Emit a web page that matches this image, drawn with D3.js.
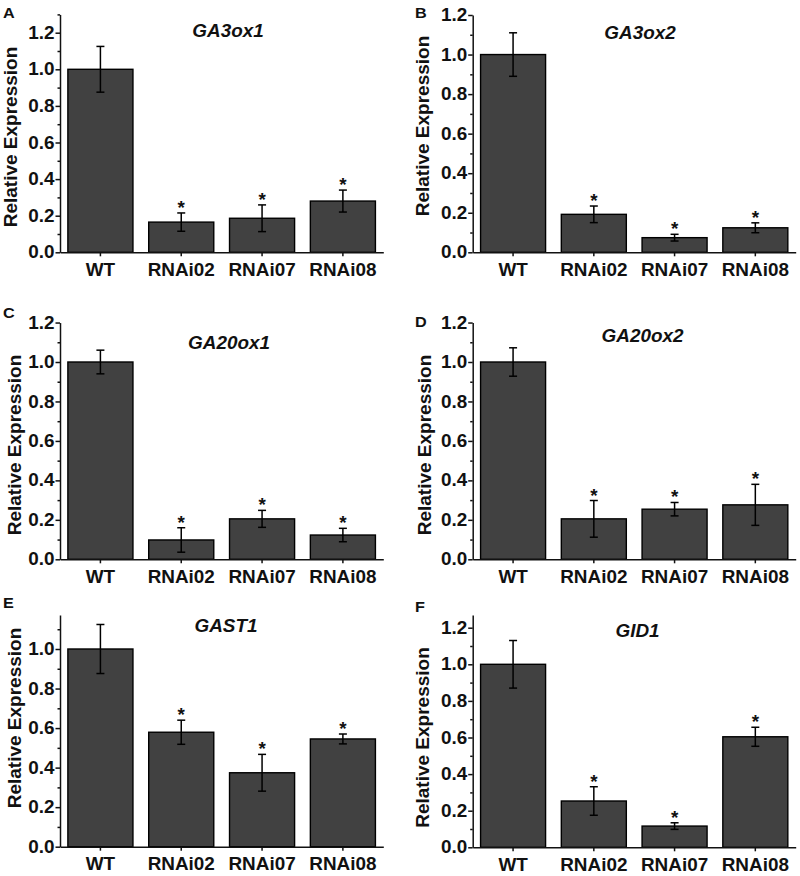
<!DOCTYPE html>
<html><head><meta charset="utf-8">
<script src="https://cdn.jsdelivr.net/npm/d3@7"></script>
<style>
body{margin:0;background:#fff}
svg text{font-family:"Liberation Sans",Arial,sans-serif;font-weight:bold;fill:#111}
</style>
</head><body>
<svg id="chart" width="800" height="876"></svg>
<script>
// ---------- data ----------
const categories = ["WT", "RNAi02", "RNAi07", "RNAi08"];
const genes = ["GA3ox1", "GA3ox2", "GA20ox1", "GA20ox2", "GAST1", "GID1"];
const panelLetters = ["A", "B", "C", "D", "E", "F"];
const yAxisTitle = "Relative Expression";

const ga3ox1Mean  = [1.000, 0.165, 0.186, 0.280];
const ga3ox1Err   = [0.125, 0.050, 0.073, 0.060];
const ga3ox2Mean  = [1.000, 0.192, 0.074, 0.124];
const ga3ox2Err   = [0.110, 0.042, 0.017, 0.025];
const ga20ox1Mean = [1.000, 0.098, 0.205, 0.123];
const ga20ox1Err  = [0.060, 0.062, 0.043, 0.034];
const ga20ox2Mean = [1.000, 0.205, 0.254, 0.276];
const ga20ox2Err  = [0.072, 0.093, 0.034, 0.104];
const gast1Mean   = [1.000, 0.579, 0.374, 0.545];
const gast1Err    = [0.124, 0.061, 0.093, 0.025];
const gid1Mean    = [1.000, 0.253, 0.116, 0.604];
const gid1Err     = [0.130, 0.078, 0.018, 0.052];
const significant = [false, true, true, true];

const yMaxValues = [1.3, 1.2, 1.2, 1.2, 1.172, 1.27];
const majorTicksFull  = [0, 0.2, 0.4, 0.6, 0.8, 1.0, 1.2];
const majorTicksShort = [0, 0.2, 0.4, 0.6, 0.8, 1.0];
const minorTickValues = [0.1, 0.3, 0.5, 0.7, 0.9, 1.1, 1.3];

const means = [ga3ox1Mean, ga3ox2Mean, ga20ox1Mean, ga20ox2Mean, gast1Mean, gid1Mean];
const errs  = [ga3ox1Err, ga3ox2Err, ga20ox1Err, ga20ox2Err, gast1Err, gid1Err];
const majorSets = [majorTicksFull, majorTicksFull, majorTicksFull, majorTicksFull, majorTicksShort, majorTicksFull];

// ---------- layout ----------
const L = {x0: 60, x1: 383.3}, R = {x0: 472.7, x1: 795.7};
const layout = [
  {...L, base: 252.3, ppu: 183.0, title: [228, 37],   letter: [3, 18],    ylab: [10, 137]},
  {...R, base: 252.3, ppu: 197.75, title: [640, 38.5], letter: [415, 17.5], ylab: [422.5, 126]},
  {...L, base: 559.3, ppu: 197.3, title: [229, 349.3], letter: [3, 317.5], ylab: [14, 445]},
  {...R, base: 559.3, ppu: 197.3, title: [642.5, 341.7], letter: [415, 327.3], ylab: [424.5, 445]},
  {...L, base: 846.7, ppu: 197.7, title: [226, 631.7], letter: [3, 608],   ylab: [14, 718]},
  {...R, base: 847.3, ppu: 183.0, title: [637.5, 637.3], letter: [415, 611.7], ylab: [422.5, 737.5]}
];
const SX = 1.08;      // horizontal text stretch of the original
const FS = 17.5;
const barFill = "#414141";
const ink = "#111";

const svg = d3.select("#chart");

genes.forEach((gene, i) => {
  const lay = layout[i];
  const g = svg.append("g");
  const yMax = yMaxValues[i];
  const y = d3.scaleLinear().domain([0, yMax]).range([lay.base, lay.base - yMax * lay.ppu]);
  const x = d3.scaleBand().domain(categories).range([lay.x0, lay.x1])
              .paddingInner(0.195).paddingOuter(0.0975);

  // bars
  const rows = categories.map((c, k) => ({c, m: means[i][k], e: errs[i][k], s: significant[k]}));
  g.selectAll("rect.bar").data(rows).join("rect")
    .attr("class", "bar")
    .attr("x", d => x(d.c)).attr("width", x.bandwidth())
    .attr("y", d => y(d.m)).attr("height", d => y(0) - y(d.m))
    .attr("fill", barFill).attr("stroke", "#000").attr("stroke-width", 1.4);

  // error bars
  const cx = d => x(d.c) + x.bandwidth() / 2;
  const eg = g.append("g").attr("stroke", "#000").attr("stroke-width", 1.5);
  eg.selectAll("line.v").data(rows).join("line")
    .attr("x1", cx).attr("x2", cx).attr("y1", d => y(d.m - d.e)).attr("y2", d => y(d.m + d.e));
  eg.selectAll("line.t").data(rows).join("line")
    .attr("x1", d => cx(d) - 4).attr("x2", d => cx(d) + 4)
    .attr("y1", d => y(d.m + d.e)).attr("y2", d => y(d.m + d.e));
  eg.selectAll("line.b").data(rows).join("line")
    .attr("x1", d => cx(d) - 4).attr("x2", d => cx(d) + 4)
    .attr("y1", d => y(d.m - d.e)).attr("y2", d => y(d.m - d.e));

  // asterisks
  g.selectAll("text.star").data(rows.filter(d => d.s)).join("text")
    .attr("class", "star").attr("text-anchor", "middle").attr("font-size", FS)
    .attr("transform", d => `translate(${cx(d)},${y(d.m + d.e) + 1}) scale(${SX},1)`)
    .text("*");

  // y axis (major)
  const yAx = g.append("g").attr("transform", `translate(${lay.x0},0)`)
    .call(d3.axisLeft(y).tickValues(majorSets[i].filter(v => v <= yMax + 1e-9))
      .tickSize(4.5).tickSizeOuter(0).tickPadding(0.6).tickFormat(d3.format(".1f")));
  // y axis (minor)
  const yMin = g.append("g").attr("transform", `translate(${lay.x0},0)`)
    .call(d3.axisLeft(y).tickValues(minorTickValues.filter(v => v <= yMax + 1e-9))
      .tickSize(2.5).tickFormat(""));
  yMin.select(".domain").remove();

  // x axis
  const xAx = g.append("g").attr("transform", `translate(0,${lay.base})`)
    .call(d3.axisBottom(x).tickSize(4).tickSizeOuter(0).tickPadding(7));

  [yAx, yMin, xAx].forEach(a => {
    a.selectAll("path,line").attr("stroke", ink).attr("stroke-width", 1.5);
    a.attr("font-size", FS).attr("font-family", null);
    a.selectAll("text").attr("fill", ink).attr("transform", `scale(${SX},1)`);
  });

  // title
  g.append("text").attr("text-anchor", "middle").attr("font-size", FS)
    .attr("font-style", "italic")
    .attr("transform", `translate(${lay.title[0]},${lay.title[1]}) scale(${SX},1)`)
    .text(gene);

  // panel letter
  g.append("text").attr("font-size", 15)
    .attr("transform", `translate(${lay.letter[0]},${lay.letter[1]}) scale(${SX},1)`)
    .text(panelLetters[i]);

  // y-axis title
  g.append("text").attr("text-anchor", "middle").attr("font-size", 19)
    .attr("dy", "0.35em")
    .attr("transform", `translate(${lay.ylab[0]},${lay.ylab[1]}) rotate(-90)`)
    .text(yAxisTitle);
});
</script>
</body></html>
